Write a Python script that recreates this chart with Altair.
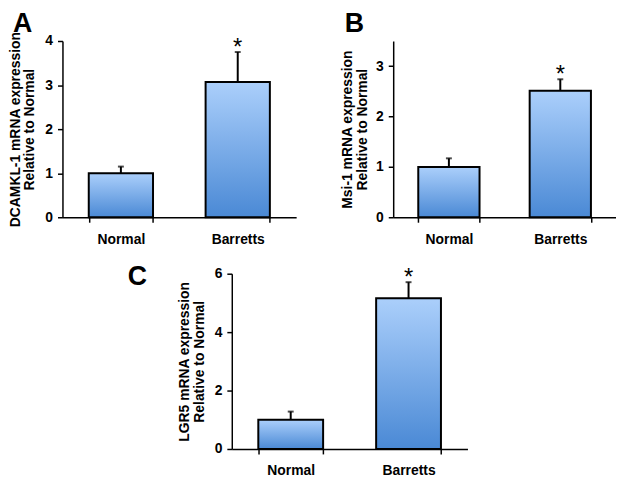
import altair as alt
import pandas as pd

groups = ["Normal", "Barretts"]

dcamkl_mean = [1.0, 3.07]
dcamkl_err = [0.15, 0.68]

msi_mean = [1.0, 2.51]
msi_err = [0.17, 0.23]

lgr5_mean = [1.0, 5.16]
lgr5_err = [0.28, 0.55]

significant = ["", "*"]

FONT = "Liberation Sans"

gradient = alt.Gradient(
    gradient="linear",
    stops=[alt.GradientStop(color="#abcffb", offset=0),
           alt.GradientStop(color="#4a89d5", offset=1)],
    x1=0, x2=0, y1=0, y2=1,
)


def panel(letter, title_lines, means, errs, domain_max, tick_vals, width, height,
          letter_dx, letter_dy, title_pad):
    df = pd.DataFrame({
        "group": groups,
        "mean": means,
        "top": [m + e for m, e in zip(means, errs)],
        "sig": significant,
    })
    x = alt.X("group:N", sort=groups, title=None,
              scale=alt.Scale(paddingInner=0.45, paddingOuter=0.225),
              axis=alt.Axis(labelAngle=0, tickBand="extent", tickSize=5,
                            labelPadding=10, labelFontSize=14, grid=False,
                            labelFontWeight="bold"))
    y = alt.Y("mean:Q", title=title_lines,
              scale=alt.Scale(domain=[0, domain_max], nice=False, zero=True),
              axis=alt.Axis(values=tick_vals, format="d", tickSize=5, grid=False,
                            labelPadding=5, labelFontSize=14,
                            labelFontWeight="bold", titleFontSize=14,
                            titleFontWeight="bold", titlePadding=title_pad,
                            titleLineHeight=15))
    base = alt.Chart(df)
    bars = base.mark_bar(color=gradient, stroke="black", strokeWidth=2).encode(x=x, y=y)
    err = base.mark_rule(color="black", strokeWidth=2).encode(
        x=alt.X("group:N", sort=groups), y="mean:Q", y2="top:Q")
    cap = base.mark_tick(color="black", thickness=2, size=6).encode(
        x=alt.X("group:N", sort=groups), y="top:Q")
    star = base.mark_text(font=FONT, fontSize=24, baseline="alphabetic", dy=3).encode(
        x=alt.X("group:N", sort=groups), y="top:Q", text="sig:N")
    lab = alt.Chart(pd.DataFrame({"t": [letter]})).mark_text(
        font=FONT, fontSize=27, fontWeight="bold", align="left",
        baseline="alphabetic").encode(
        x=alt.value(letter_dx), y=alt.value(letter_dy), text="t:N")
    return alt.layer(bars, err, cap, star, lab).properties(width=width, height=height)


A = panel("A", ["DCAMKL-1 mRNA expression", "Relative to Normal"],
          dcamkl_mean, dcamkl_err, 4, [0, 1, 2, 3, 4], 236, 178, -50, -9, 8)
B = panel("B", ["Msi-1 mRNA expression", "Relative to Normal"],
          msi_mean, msi_err, 3.5, [0, 1, 2, 3], 225, 178, -49, -9, 6)
C = panel("C", ["LGR5 mRNA expression", "Relative to Normal"],
          lgr5_mean, lgr5_err, 6, [0, 1, 2, 3, 4, 5, 6], 238, 177, -105, 11, 8)

spacer = alt.layer(
    alt.Chart(pd.DataFrame({"t": [" "]})).mark_text(opacity=0, fontSize=1).encode(
        x=alt.value(0), y=alt.value(0), text="t:N")
).properties(width=171, height=177)

row1 = alt.hconcat(A, B, spacing=98, bounds="flush")
row2 = alt.hconcat(spacer, C, spacing=0, bounds="flush")

chart = alt.vconcat(row1, row2, spacing=17).properties(
    background="white",
    padding={"left": 0, "top": 0, "right": 0, "bottom": 0}
).configure_view(
    strokeWidth=0, strokeOpacity=0
).configure_axis(
    domainColor="black", domainWidth=1.5, tickColor="black", tickWidth=1.5,
    labelColor="black", titleColor="black", labelFont=FONT, titleFont=FONT,
    grid=False
)

chart.save("out.html", embed_options={"renderer": "svg", "actions": False})
